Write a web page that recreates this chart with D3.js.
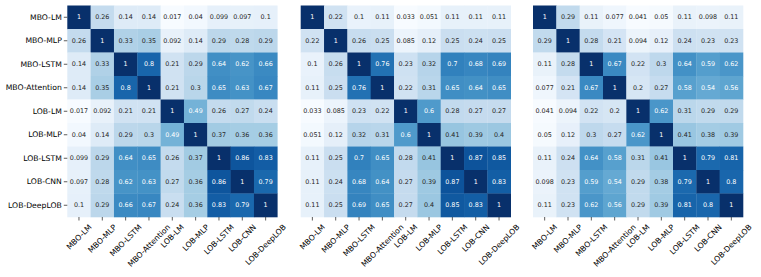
<!DOCTYPE html>
<html><head><meta charset="utf-8">
<script src="https://cdn.jsdelivr.net/npm/d3@7"></script>
<style>body{margin:0;background:#fff;} text{font-family:"DejaVu Sans",sans-serif;}</style>
</head><body>
<svg id="c" width="761" height="277"></svg>
<script>
const labels = ["MBO-LM","MBO-MLP","MBO-LSTM","MBO-Attention","LOB-LM","LOB-MLP","LOB-LSTM","LOB-CNN","LOB-DeepLOB"];
const panel1 = [
 [1,0.26,0.14,0.14,0.017,0.04,0.099,0.097,0.1],
 [0.26,1,0.33,0.35,0.092,0.14,0.29,0.28,0.29],
 [0.14,0.33,1,0.8,0.21,0.29,0.64,0.62,0.66],
 [0.14,0.35,0.8,1,0.21,0.3,0.65,0.63,0.67],
 [0.017,0.092,0.21,0.21,1,0.49,0.26,0.27,0.24],
 [0.04,0.14,0.29,0.3,0.49,1,0.37,0.36,0.36],
 [0.099,0.29,0.64,0.65,0.26,0.37,1,0.86,0.83],
 [0.097,0.28,0.62,0.63,0.27,0.36,0.86,1,0.79],
 [0.1,0.29,0.66,0.67,0.24,0.36,0.83,0.79,1]
];
const panel2 = [
 [1,0.22,0.1,0.11,0.033,0.051,0.11,0.11,0.11],
 [0.22,1,0.26,0.25,0.085,0.12,0.25,0.24,0.25],
 [0.1,0.26,1,0.76,0.23,0.32,0.7,0.68,0.69],
 [0.11,0.25,0.76,1,0.22,0.31,0.65,0.64,0.65],
 [0.033,0.085,0.23,0.22,1,0.6,0.28,0.27,0.27],
 [0.051,0.12,0.32,0.31,0.6,1,0.41,0.39,0.4],
 [0.11,0.25,0.7,0.65,0.28,0.41,1,0.87,0.85],
 [0.11,0.24,0.68,0.64,0.27,0.39,0.87,1,0.83],
 [0.11,0.25,0.69,0.65,0.27,0.4,0.85,0.83,1]
];
const panel3 = [
 [1,0.29,0.11,0.077,0.041,0.05,0.11,0.098,0.11],
 [0.29,1,0.28,0.21,0.094,0.12,0.24,0.23,0.23],
 [0.11,0.28,1,0.67,0.22,0.3,0.64,0.59,0.62],
 [0.077,0.21,0.67,1,0.2,0.27,0.58,0.54,0.56],
 [0.041,0.094,0.22,0.2,1,0.62,0.31,0.29,0.29],
 [0.05,0.12,0.3,0.27,0.62,1,0.41,0.38,0.39],
 [0.11,0.24,0.64,0.58,0.31,0.41,1,0.79,0.81],
 [0.098,0.23,0.59,0.54,0.29,0.38,0.79,1,0.8],
 [0.11,0.23,0.62,0.56,0.29,0.39,0.81,0.8,1]
];
const panels = [panel1, panel2, panel3];
const lefts = [67.3, 300.7, 533];
const W = 210, TOP = 5.5, H = 211.5;
const svg = d3.select("#c");

panels.forEach((data, pi) => {
  const g = svg.append("g").attr("transform", `translate(${lefts[pi]},${TOP})`);
  const x = d3.scaleBand().domain(labels).range([0, W]);
  const y = d3.scaleBand().domain(labels).range([0, H]);
  const vals = data.flat();
  const vmin = d3.min(vals);
  const color = d3.scaleSequential(d3.interpolateBlues).domain([vmin, d3.max(vals)]);
  const cells = [];
  data.forEach((row, i) => row.forEach((v, j) => cells.push({r: labels[i], c: labels[j], v})));
  g.selectAll("rect").data(cells).join("rect")
    .attr("x", d => x(d.c)).attr("y", d => y(d.r))
    .attr("width", x.bandwidth() + 0.3).attr("height", y.bandwidth() + 0.3)
    .attr("fill", d => color(d.v));
  g.selectAll("text.v").data(cells).join("text").attr("class", "v")
    .attr("x", d => x(d.c) + x.bandwidth() / 2).attr("y", d => y(d.r) + y.bandwidth() / 2)
    .attr("text-anchor", "middle").attr("dominant-baseline", "central")
    .attr("font-size", "6.4px")
    .attr("fill", d => (d.v - vmin) / (1 - vmin) > 0.45 ? "#fff" : "#262626")
    .text(d => d3.format("~g")(+d.v.toPrecision(2)));
  const xa = g.append("g").attr("transform", `translate(0,${H})`)
    .call(d3.axisBottom(x).tickSize(3.5).tickPadding(2));
  xa.select(".domain").remove();
  xa.selectAll("line").attr("stroke", "#333").attr("stroke-width", 0.8);
  const fs = 7.7;
  xa.selectAll("text").attr("font-size", fs + "px").attr("fill", "#000")
    .attr("text-anchor", "middle").attr("dy", "0.35em").attr("y", 0)
    .each(function() {
      const L = this.getComputedTextLength();
      const hh = fs * 1.0;
      const off = 6 + (L + hh) * Math.SQRT1_2 / 2;
      d3.select(this).attr("transform", `translate(0,${off}) rotate(-45)`);
    });
  if (pi === 0) {
    const ya = g.append("g").call(d3.axisLeft(y).tickSize(3.5).tickPadding(2));
    ya.select(".domain").remove();
    ya.selectAll("line").attr("stroke", "#333").attr("stroke-width", 0.8);
    ya.selectAll("text").attr("font-size", fs + "px").attr("fill", "#000");
  }
});
</script>
</body></html>
